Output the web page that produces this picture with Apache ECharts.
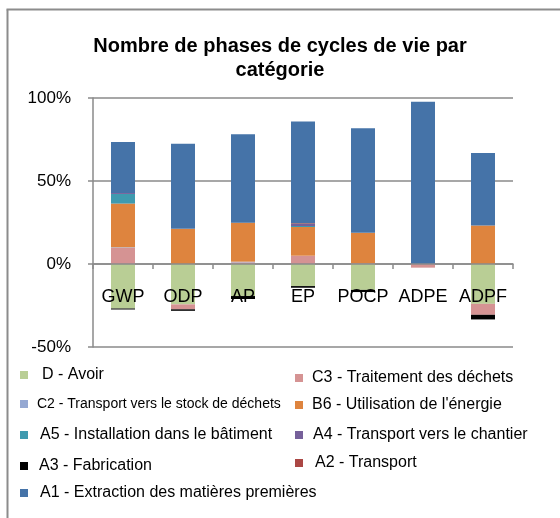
<!DOCTYPE html>
<html><head><meta charset="utf-8">
<script src="https://cdn.jsdelivr.net/npm/echarts@6/dist/echarts.min.js"></script>
<style>html,body{margin:0;padding:0;background:#fff}#c{width:560px;height:518px}</style>
</head><body><div id="c"></div>
<script>
// ---- data ----
const categories = ['GWP', 'ODP', 'AP', 'EP', 'POCP', 'ADPE', 'ADPF'];
const titleText = 'Nombre de phases de cycles de vie par\ncatégorie';
const yMin = -50, yMax = 100, yStep = 50;

const nameD  = 'D - Avoir';
const nameC3 = 'C3 - Traitement des déchets';
const nameC2 = 'C2 - Transport vers le stock de déchets';
const nameB6 = "B6 - Utilisation de l'énergie";
const nameA5 = 'A5 - Installation dans le bâtiment';
const nameA4 = 'A4 - Transport vers le chantier';
const nameA3 = 'A3 - Fabrication';
const nameA2 = 'A2 - Transport';
const nameA1 = 'A1 - Extraction des matières premières';

const valD  = [-26.8, -24.3, -19.3, -13.3, -15.6, 0, -24.0];
const valC3 = [9.8, -3.0, 1.0, 5.0, 0.4, -2.2, -6.6];
const valC2 = [0.3, 0, 0.4, 0, 0, 0, 0];
const valB6 = [26.3, 21.2, 23.5, 17.3, 18.4, 0, 23.2];
const valA5 = [5.8, 0, 0, 0.6, 0, 0, 0];
const valA4 = [0.6, 0, 0, 1.3, 0, 0, 0];
const valA3 = [-0.6, -0.9, -1.8, -1.0, -1.3, 0, -2.8];
const valA2 = [0, 0, 0, 0.4, 0, 0, 0];
const valA1 = [30.7, 51.2, 53.3, 61.3, 63.0, 97.8, 43.7];

// ---- styles ----
const seriesDefs = [
  {name: nameD,  data: valD,  color: '#B9CE95'},
  {name: nameC3, data: valC3, color: '#D59393'},
  {name: nameC2, data: valC2, color: '#95A8D2'},
  {name: nameB6, data: valB6, color: '#DE843E'},
  {name: nameA5, data: valA5, color: '#3F9AAF'},
  {name: nameA4, data: valA4, color: '#76609A'},
  {name: nameA3, data: valA3, color: '#000000', z: 4},
  {name: nameA2, data: valA2, color: '#AB4744'},
  {name: nameA1, data: valA1, color: '#4573A8'}
];

// legend layout: [name, left, centerY, textStart, fontSize]
const legendLayout = [
  [nameD, 20, 375, 42, 16],
  [nameC2, 20, 405, 37, 14],
  [nameA5, 20, 435, 40, 16],
  [nameA3, 20, 466, 39, 16],
  [nameA1, 20, 493, 40, 16],
  [nameC3, 295, 378, 312, 16],
  [nameB6, 295, 405, 312, 16],
  [nameA4, 295, 435, 313, 16],
  [nameA2, 295, 463, 315, 16]
];

const FONT = "'Liberation Sans', Arial, sans-serif";

const legends = legendLayout.map(l => ({
  left: l[1], top: l[2] - 8, padding: 0,
  icon: 'rect', itemWidth: 8, itemHeight: 8,
  selectedMode: false,
  data: [l[0]],
  textStyle: {
    fontFamily: FONT, fontSize: l[4], color: '#000',
    padding: [0, 0, 0, Math.max(0, l[3] - (l[1] + 8) - 5)]
  }
}));

const gridTop = 98, gridHeight = 249;
const zeroOffset = -gridHeight * (0 - yMin) / (yMax - yMin);

const option = {
  animation: false,
  backgroundColor: '#fff',
  title: {
    text: titleText, left: 'center', top: 29,
    textStyle: {fontFamily: FONT, fontSize: 20, fontWeight: 'bold', color: '#000', lineHeight: 24}
  },
  graphic: [
    {type: 'line', shape: {x1: 7.5, y1: 9.5, x2: 7.5, y2: 600}, style: {stroke: '#8c8c8c', lineWidth: 2}, silent: true, z: -1},
    {type: 'line', shape: {x1: 6.5, y1: 9.5, x2: 600, y2: 9.5}, style: {stroke: '#8c8c8c', lineWidth: 2}, silent: true, z: -1}
  ],
  legend: legends,
  grid: {left: 93, top: gridTop, width: 420, height: gridHeight, containLabel: false},
  xAxis: {
    type: 'category', data: categories, z: 3,
    offset: zeroOffset,
    axisLine: {onZero: false, lineStyle: {color: '#8a8a8a', width: 1.5}},
    axisTick: {show: true, length: 5, lineStyle: {color: '#8a8a8a', width: 1.5}},
    axisLabel: {fontFamily: FONT, fontSize: 18, color: '#000', margin: 24, interval: 0}
  },
  yAxis: {
    type: 'value', min: yMin, max: yMax, interval: yStep,
    axisLine: {show: true, lineStyle: {color: '#8a8a8a', width: 1.5}},
    axisTick: {show: true, length: 5, lineStyle: {color: '#8a8a8a', width: 1.5}},
    axisLabel: {fontFamily: FONT, fontSize: 17, color: '#000', margin: 22, formatter: '{value}%'},
    splitLine: {show: true, lineStyle: {color: '#8a8a8a', width: 1.5}}
  },
  series: seriesDefs.map(s => ({
    type: 'bar', name: s.name, stack: 'total', data: s.data,
    barWidth: '40%', z: s.z || 2,
    itemStyle: {color: s.color}
  }))
};

const chart = echarts.init(document.getElementById('c'), null, {renderer: 'canvas'});
chart.setOption(option);
</script>
</body></html>
